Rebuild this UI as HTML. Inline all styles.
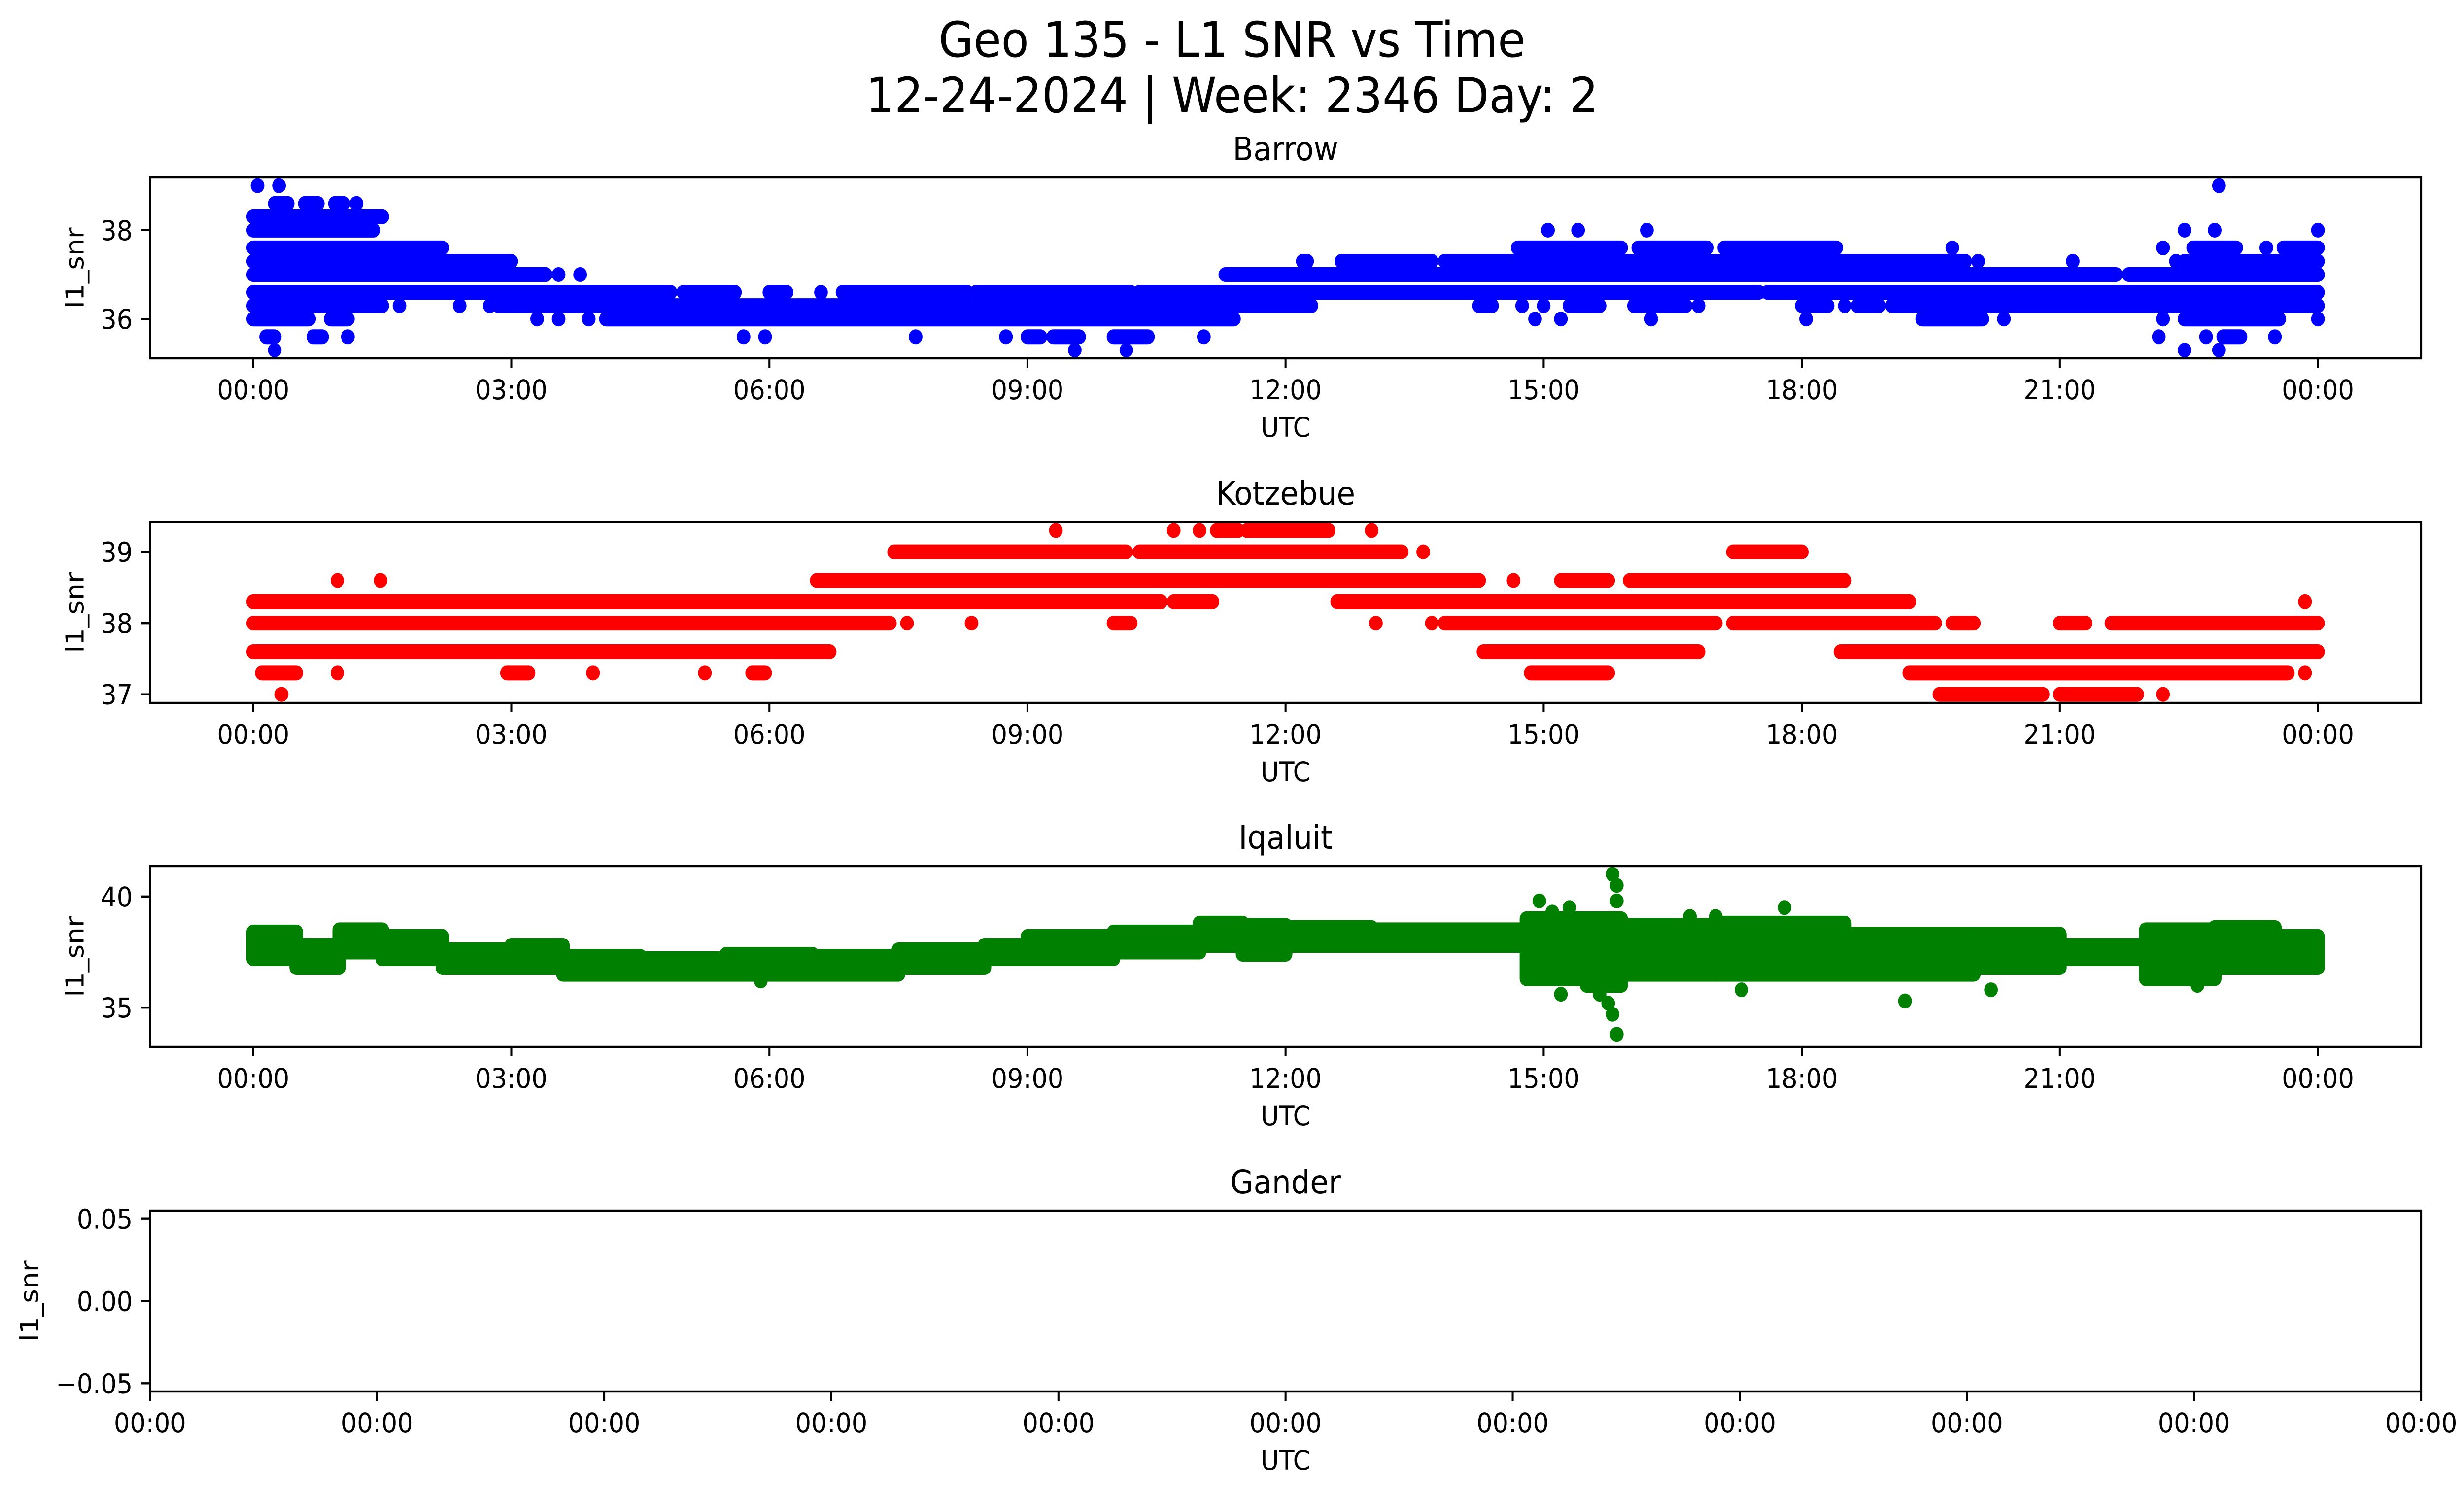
<!DOCTYPE html>
<html><head><meta charset="utf-8"><meta name="viewport" content="width=5406, initial-scale=1"><title>Geo 135 - L1 SNR vs Time</title>
<style>html,body{margin:0;padding:0;background:#fff;width:100%;height:100%;overflow:hidden}svg{display:block;width:100vw;height:100vh}text{font-family:"DejaVu Sans","Liberation Sans",sans-serif;fill:#000}</style>
</head><body>
<svg id="fig" xmlns="http://www.w3.org/2000/svg" viewBox="0 0 5406 3033" preserveAspectRatio="none">
<rect width="5406" height="3033" fill="#fff"/>
<text x="2703" y="115" font-size="99" text-anchor="middle">Geo 135 - L1 SNR vs Time</text>
<text x="2703" y="228" font-size="99" text-anchor="middle">12-24-2024 | Week: 2346 Day: 2</text>
</svg>
<script>
// ---- data (hours UTC, SNR values) ----
const xTickHours = [0,3,6,9,12,15,18,21,24];
const xTickLabels = ["00:00","03:00","06:00","09:00","12:00","15:00","18:00","21:00","00:00"];
const stationNames = ["Barrow","Kotzebue","Iqaluit","Gander"];
const barrowTicks = [36,38];
const kotzebueTicks = [37,38,39];
const iqaluitTicks = [35,40];
const ganderTicks = [-0.05,0.00,0.05];
const ganderTickLabels = ["\u22120.05","0.00","0.05"];
// runs: [startHour, endHour, value]
const barrowRuns = [
[0.05,0.05,39.0],[0.3,0.3,39.0],[22.85,22.85,39.0],
[0.25,0.4,38.6],[0.6,0.75,38.6],[0.95,1.05,38.6],[1.2,1.2,38.6],
[0,1.5,38.3],
[0,1.4,38.0],[15.05,15.05,38.0],[15.4,15.4,38.0],[16.2,16.2,38.0],[22.45,22.45,38.0],[22.8,22.8,38.0],[24,24,38.0],
[0,2.2,37.6],[14.7,15.9,37.6],[16.1,16.9,37.6],[17.1,18.4,37.6],[19.75,19.75,37.6],[22.2,22.2,37.6],[22.55,23.05,37.6],[23.4,23.4,37.6],[23.6,24,37.6],
[0,3.0,37.3],[12.2,12.25,37.3],[12.65,13.7,37.3],[13.85,19.9,37.3],[20.05,20.05,37.3],[21.15,21.15,37.3],[22.35,22.35,37.3],[22.45,24,37.3],
[0,3.4,37.0],[3.55,3.55,37.0],[3.8,3.8,37.0],[11.3,21.65,37.0],[21.8,24,37.0],
[0,4.85,36.6],[5.0,5.6,36.6],[6.0,6.2,36.6],[6.6,6.6,36.6],[6.85,8.3,36.6],[8.4,10.2,36.6],[10.3,17.5,36.6],[17.6,24,36.6],
[0,1.5,36.3],[1.7,1.7,36.3],[2.4,2.4,36.3],[2.75,2.75,36.3],[2.85,12.3,36.3],[14.25,14.4,36.3],[14.75,14.75,36.3],[15.0,15.0,36.3],[15.3,15.65,36.3],[16.05,16.65,36.3],[16.8,16.8,36.3],[18.0,18.3,36.3],[18.5,18.5,36.3],[18.65,18.9,36.3],[19.05,24,36.3],
[0,0.65,36.0],[0.9,1.1,36.0],[3.3,3.3,36.0],[3.55,3.55,36.0],[3.9,3.9,36.0],[4.1,11.4,36.0],[14.9,14.9,36.0],[15.2,15.2,36.0],[16.25,16.25,36.0],[18.05,18.05,36.0],[19.4,20.1,36.0],[20.35,20.35,36.0],[22.2,22.2,36.0],[22.45,23.55,36.0],[24,24,36.0],
[0.15,0.25,35.6],[0.7,0.8,35.6],[1.1,1.1,35.6],[5.7,5.7,35.6],[5.95,5.95,35.6],[7.7,7.7,35.6],[8.75,8.75,35.6],[9.0,9.15,35.6],[9.3,9.6,35.6],[10.0,10.4,35.6],[11.05,11.05,35.6],[22.15,22.15,35.6],[22.7,22.7,35.6],[22.9,23.1,35.6],[23.5,23.5,35.6],
[0.25,0.25,35.3],[9.55,9.55,35.3],[10.15,10.15,35.3],[22.45,22.45,35.3],[22.85,22.85,35.3]
];
const kotzebueRuns = [
[9.33,9.33,39.3],[10.7,10.7,39.3],[11.0,11.0,39.3],[11.2,11.45,39.3],[11.55,12.5,39.3],[13.0,13.0,39.3],
[7.45,10.15,39.0],[10.3,13.35,39.0],[13.6,13.6,39.0],[17.2,18.0,39.0],
[0.98,0.98,38.6],[1.48,1.48,38.6],[6.55,14.25,38.6],[14.65,14.65,38.6],[15.2,15.75,38.6],[16.0,18.5,38.6],
[0,10.55,38.3],[10.7,11.15,38.3],[12.6,19.25,38.3],[23.85,23.85,38.3],
[0,7.4,38.0],[7.6,7.6,38.0],[8.35,8.35,38.0],[10.0,10.2,38.0],[13.05,13.05,38.0],[13.7,13.7,38.0],[13.85,17.0,38.0],[17.2,19.55,38.0],[19.75,20.0,38.0],[21.0,21.3,38.0],[21.6,24,38.0],
[0,6.7,37.6],[14.3,16.8,37.6],[18.45,24,37.6],
[0.1,0.5,37.3],[0.98,0.98,37.3],[2.95,3.2,37.3],[3.95,3.95,37.3],[5.25,5.25,37.3],[5.8,5.95,37.3],[14.85,15.75,37.3],[19.25,23.65,37.3],[23.85,23.85,37.3],
[0.33,0.33,37.0],[19.6,20.8,37.0],[21.0,21.9,37.0],[22.2,22.2,37.0]
];
// iqaluit bands: [startHour, endHour, low, high]
const iqaluitBands = [
[0,0.5,37.2,38.4],[0.5,1.0,36.8,37.8],[1.0,1.5,37.5,38.5],[1.5,2.2,37.2,38.2],[2.2,3.0,36.8,37.6],[3.0,3.6,36.8,37.8],
[3.6,4.5,36.5,37.3],[4.5,5.5,36.5,37.2],[5.5,6.5,36.5,37.4],[6.5,7.5,36.5,37.3],[7.5,8.5,36.8,37.6],[8.5,9.0,37.2,37.8],
[9.0,10.0,37.2,38.2],[10.0,11.0,37.5,38.4],[11.0,11.5,37.8,38.8],[11.5,12.0,37.4,38.7],[12.0,13.0,37.8,38.6],[13.0,14.8,37.8,38.5],
[14.8,15.5,36.3,39.0],[15.5,15.9,36.0,39.0],[15.9,17.0,36.5,38.7],[17.0,18.5,36.5,38.8],[18.5,20.0,36.5,38.3],[20.0,21.0,36.8,38.3],
[21.0,22.0,37.2,37.8],[22.0,22.8,36.3,38.5],[22.8,23.5,36.8,38.6],[23.5,24.0,36.8,38.2]
];
const iqaluitOutlierHours = [14.95,15.1,15.3,15.65,15.8,15.85,15.85,15.8,15.85,15.75,15.2,16.7,17.0,17.8,17.3,19.2,20.2,22.6,5.9];
const iqaluitOutlierValues = [39.8,39.3,39.5,35.6,41.0,40.5,39.8,34.7,33.8,35.2,35.6,39.1,39.1,39.5,35.8,35.3,35.8,36.0,36.2];

// ---- layout ----
const NS = "http://www.w3.org/2000/svg";
const svg = document.getElementById('fig');
const AX_L = 329, AX_R = 5312, AX_H = 367;
const tops = [360, 1059, 1757, 2456];
const ylims = [[35.115,39.185],[36.88,39.42],[33.23,41.37],[-0.055,0.055]];
const colors = ["#0000ff","#ff0000","#008000"];
const DATA_X0 = 555.5, DATA_X1 = 5085.5;
function xScale(h){ return DATA_X0 + h*(DATA_X1-DATA_X0)/24; }
function yScale(v,p){ const [a,b]=ylims[p]; return tops[p] + (b-v)/(b-a)*AX_H; }
function mk(tag, attrs, parent){ const e=document.createElementNS(NS,tag); for(const k in attrs) e.setAttribute(k,attrs[k]); (parent||svg).appendChild(e); return e; }

function drawRuns(runs,p,g){
  runs.forEach(r=>{
    const x1=xScale(r[0]), x2=xScale(r[1]), y=yScale(r[2],p);
    let el;
    if (r[1]-r[0] < 0.001) {
      el = mk('circle',{cx:x1,cy:y,r:15,fill:colors[p]},g);
    } else {
      el = mk('line',{x1:x1,x2:x2,y1:y,y2:y,stroke:colors[p],'stroke-width':30,'stroke-linecap':'round'},g);
    }
    
    
  });
}

for (let p=0;p<4;p++){
  const top=tops[p], bot=top+AX_H;
  const g = mk('g',{});
  
  
  const clipId='clip'+p;
  const cp = mk('clipPath',{id:clipId},g);
  mk('rect',{x:AX_L,y:top,width:AX_R-AX_L,height:AX_H},cp);
  const dg = mk('g',{'clip-path':'url(#'+clipId+')'},g);
  
  
  if (p===0) drawRuns(barrowRuns,0,dg);
  if (p===1) drawRuns(kotzebueRuns,1,dg);
  if (p===2){
    iqaluitBands.forEach(b=>{
      const x1=xScale(b[0])-15, x2=xScale(b[1])+15, y1=yScale(b[3],2)-15, y2=yScale(b[2],2)+15;
      const el = mk('rect',{x:x1,y:y1,width:x2-x1,height:y2-y1,rx:15,fill:colors[2]},dg);
      
      
    });
    iqaluitOutlierHours.forEach((h,i)=>{
      const el = mk('circle',{cx:xScale(h),cy:yScale(iqaluitOutlierValues[i],2),r:15,fill:colors[2]},dg);
      
      
    });
  }
  const fr = mk('rect',{x:AX_L,y:top,width:AX_R-AX_L,height:AX_H,fill:'none',stroke:'#000','stroke-width':4.4},g);
  
  
  const t = mk('text',{x:(AX_L+AX_R)/2,y:top-35,'font-size':66,'text-anchor':'middle'},g);
  t.textContent = stationNames[p];
  
  
  let xs, labs;
  if (p<3){ xs = xTickHours.map(xScale); labs = xTickLabels; }
  else { xs=[]; labs=[]; for(let i=0;i<=10;i++){ xs.push(AX_L+i*(AX_R-AX_L)/10); labs.push("00:00"); } }
  xs.forEach((x,i)=>{
    const tk = mk('line',{x1:x,x2:x,y1:bot,y2:bot+19,stroke:'#000','stroke-width':4.4},g);
    
    
    const tl = mk('text',{x:x,y:bot+83,'font-size':55,'text-anchor':'middle'},g);
    tl.textContent = labs[i];
    
    
  });
  const xl = mk('text',{x:(AX_L+AX_R)/2,y:bot+159,'font-size':55,'text-anchor':'middle'},g);
  xl.textContent = "UTC";
  
  
  const yt = [barrowTicks,kotzebueTicks,iqaluitTicks,ganderTicks][p];
  yt.forEach((v,i)=>{
    const y=yScale(v,p);
    const tk = mk('line',{x1:AX_L-19,x2:AX_L,y1:y,y2:y,stroke:'#000','stroke-width':4.4},g);
    
    
    const tl = mk('text',{x:AX_L-38,y:y+20,'font-size':55,'text-anchor':'end'},g);
    tl.textContent = p===3 ? ganderTickLabels[i] : String(v);
    
    
  });
  const lx = p===3 ? 84 : 183, ly = top+AX_H/2;
  const yl = mk('text',{x:lx,y:ly,'font-size':55,'text-anchor':'middle',transform:'rotate(-90 '+lx+' '+ly+')'},g);
  yl.textContent = "l1_snr";
  
  
}
</script>
</body></html>
